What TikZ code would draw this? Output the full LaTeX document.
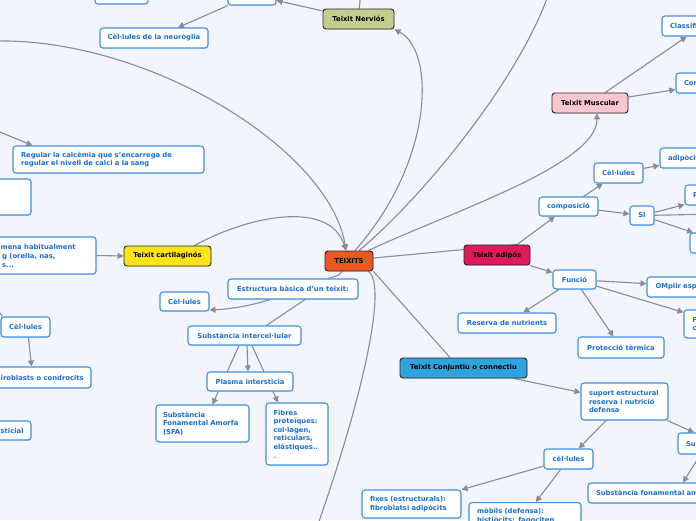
\documentclass[tikz,border=0pt]{standalone}
\usepackage{fontspec}
\setmainfont{DejaVu Sans}
\usetikzlibrary{arrows.meta,shadows}
\definecolor{bgc}{RGB}{242,245,254}
\definecolor{cb}{RGB}{64,143,226}
\definecolor{ct}{RGB}{28,110,212}
\definecolor{ln}{RGB}{140,140,140}
\definecolor{nervc}{RGB}{196,206,140}
\definecolor{teixc}{RGB}{236,88,36}
\definecolor{cartc}{RGB}{255,228,24}
\definecolor{muscc}{RGB}{249,198,207}
\definecolor{adipc}{RGB}{222,26,90}
\definecolor{conjc}{RGB}{47,164,220}
\pgfdeclarelayer{backg}
\pgfdeclarelayer{lines}
\pgfsetlayers{backg,lines,main}
\tikzset{
  txt/.style={font=\fontsize{6.8}{8.6}\selectfont\bfseries},
  child/.style={txt, draw=cb, line width=1.1pt, fill=white, rounded corners=3pt, text=ct,
    inner sep=0pt, minimum height=20pt,
    drop shadow={opacity=0.18, shadow xshift=0.6pt, shadow yshift=-0.9pt}},
  topic/.style={txt, draw=black!85, line width=0.9pt, rounded corners=3pt, text=black,
    inner sep=0pt, minimum height=20pt,
    drop shadow={opacity=0.18, shadow xshift=0.6pt, shadow yshift=-0.9pt}},
  cuttext/.style={txt, text=ct, anchor=west, align=left, inner sep=0pt},
  conn/.style={draw=ln, line width=1.1pt},
  arr/.style={conn, -{Triangle[length=6pt,width=6pt]}},
}
\begin{document}
\begin{tikzpicture}[x=1pt,y=-1pt]
\useasboundingbox (0,0) rectangle (696,520);
\begin{pgfonlayer}{backg}
\fill[bgc] (0,0) rectangle (696,520);
\end{pgfonlayer}
\clip (0,0) rectangle (696,520);
% ---- nodes ----
\node[child, minimum width=53pt] (tbA) at (121.5,-6) {};
\node[child, minimum width=48pt] (tbB) at (252,-5) {};
\node[topic, fill=nervc, minimum width=71pt] (nerv) at (358.5,19) {Teixit Nerviós};
\node[child, minimum width=108pt] (glia) at (154,38) {Cèl·lules de la neuròglia};
\node[topic, fill=teixc, minimum width=48pt] (teix) at (349,261) {TEIXITS};
\node[child, minimum width=191pt, minimum height=27pt, text width=175pt, align=left] (reg) at (108.5,159.5) {Regular la calcèmia que s'encarrega de\\regular el nivell de calci a la sang};
\node[child, minimum width=71pt, minimum height=36pt] (lb1) at (-4.5,197) {};
\node[child, minimum width=156pt, minimum height=37pt] (mena) at (18,255.5) {};
\node[cuttext] (menaT) at (0.5,256) {mena habitualment\\\hspace*{1.5pt}g (orella, nas,\\\hspace*{1.5pt}s...};
\node[topic, fill=cartc, minimum width=87pt] (cart) at (167.5,256) {Teixit cartilaginós};
\node[child, minimum width=49pt] (celL) at (25.5,327) {Cèl·lules};
\node[child, minimum width=131pt, minimum height=21pt] (irob) at (25.5,377.5) {};
\node[cuttext] (irobT) at (0.5,377.5) {iroblasts o condrocits};
\node[child, minimum width=71pt, minimum height=19pt] (stic) at (-4.5,430.5) {};
\node[cuttext] (sticT) at (0.5,430.5) {sticial};
\node[child, minimum width=49pt, minimum height=19pt] (celM) at (184.5,301.5) {Cèl·lules};
\node[child, minimum width=130pt] (estr) at (293,289) {Estructura bàsica d'un teixit:};
\node[child, minimum width=113pt, minimum height=19pt] (subst) at (244.5,335.5) {Substància intercel·lular};
\node[child, minimum width=86pt, minimum height=19pt] (plas) at (250,381.5) {Plasma intersticia};
\node[child, minimum width=93pt, minimum height=37pt, text width=79pt, align=left] (sfa) at (202.5,423.5) {Substància\\Fonamental Amorfa\\(SFA)};
\node[child, minimum width=62pt, minimum height=62pt, text width=47pt, align=left] (fib) at (297,434) {Fibres\\proteïques:\\col·lagen,\\reticulars,\\elàstiques..\\.};
\node[topic, fill=muscc, minimum width=76pt] (musc) at (590,103) {Teixit Muscular};
\node[child, minimum width=80pt, text width=64pt, align=left] (clas) at (702,26) {Classificació};
\node[child, minimum width=84pt, text width=68pt, align=left] (con) at (718,83) {Contracció};
\node[topic, fill=adipc, minimum width=66pt] (adip) at (497,255) {Teixit adipós};
\node[child, minimum width=59pt, minimum height=19pt] (comp) at (568.5,206.5) {composició};
\node[child, minimum width=49pt] (celA) at (618.5,173) {Cèl·lules};
\node[child, minimum width=80pt, text width=64pt, align=left] (adpc) at (700,158) {adipòcits};
\node[child, minimum width=24pt, minimum height=19pt] (si) at (642,215.5) {SI};
\node[child, minimum width=75pt, text width=59pt, align=left] (pbox) at (722.5,195) {P};
\node[child, minimum width=70pt] (sib) at (725,243) {};
\coordinate (siR) at (720,214);
\node[child, minimum width=43pt, minimum height=19pt] (func) at (574.5,279.5) {Funció};
\node[child, minimum width=113pt, text width=96pt, align=left] (ompl) at (703.5,287) {OMplir espai};
\node[child, minimum width=76pt, minimum height=28pt, text width=59pt, align=left] (fbox) at (722,324) {F\\c};
\node[child, minimum width=98pt] (res) at (507,323) {Reserva de nutrients};
\node[child, minimum width=86pt, minimum height=21pt] (prot) at (621,347.5) {Protecció tèrmica};
\node[topic, fill=conjc, minimum width=127pt] (conj) at (463.5,368) {Teixit Conjuntiu o connectiu};
\node[child, minimum width=87pt, minimum height=37pt, text width=71pt, align=left] (sup) at (624.5,401.5) {suport estructural\\reserva i nutrició\\defensa};
\node[child, minimum width=49pt] (celC) at (568.5,459) {cèl·lules};
\node[child, minimum width=82pt, minimum height=21pt, text width=66pt, align=left] (su) at (719,443.5) {Substància};
\node[child, minimum width=150pt, text width=134pt, align=left] (sfon) at (663,493) {Substància fonamental amorfa};
\node[child, minimum width=99pt, minimum height=28pt, text width=83pt, align=left] (fix) at (411.5,504) {fixes (estructurals):\\fibroblatsi adipòcits};
\node[child, minimum width=112pt, text width=96pt, inner ysep=6pt, align=left, anchor=north] (mob) at (525,502) {mòbils (defensa):\\histiòcits: fagociten};
% ---- connectors ----
\coordinate (nervUp) at (361,-12);
\coordinate (lft) at (-5,41);
\coordinate (topR) at (550,-10);
\coordinate (botC) at (316,530);
\coordinate (lft2) at (-5,130);
\coordinate (lft3) at (-8,303);
\begin{pgfonlayer}{lines}
\clip (0,0) rectangle (696,520);
\draw[arr] (nerv) -- (tbB);
\draw[arr] (tbB) -- (glia);
\draw[conn] (nerv) -- (nervUp);
\draw[arr] (lft) .. controls (150,38) and (330,150) .. ([xshift=-3pt]teix.north);
\draw[arr] ([xshift=27pt]cart.north) .. controls (250,215) and (330,200) .. ([xshift=-3pt]teix.north);
\draw[arr] ([xshift=6pt]teix.north) .. controls (435,160) and (435,50) .. (nerv.south east);
\draw[conn] ([xshift=10pt]teix.north) .. controls (420,200) and (520,80) .. (topR);
\draw[arr] ([xshift=-5pt]teix.north east) .. controls (450,212) and (597,165) .. ([xshift=7pt]musc.south);
\draw[conn] ([yshift=3pt]teix.east) -- ([xshift=20pt]adip.north);
\draw[arr] ([xshift=20pt]adip.north) -- (comp);
\draw[conn] (teix.south east) -- ([xshift=-13.5pt]conj.north);
\draw[conn] ([xshift=-5pt]teix.south east) .. controls (388,285) and (362,400) .. (botC);
\draw[conn] ([xshift=-7pt]teix.south) .. controls (340,275) .. ([xshift=35pt]estr.north);
\draw[arr] ([xshift=-23pt]estr.south) .. controls (250,306) and (230,309) .. ([yshift=-8.5pt]celM.east);
\draw[conn] ([xshift=12pt]estr.south) -- ([xshift=22pt]subst.north);
\draw[arr] ([xshift=-5.5pt]subst.south) -- ([xshift=10pt]sfa.north);
\draw[arr] ([xshift=2.5pt]subst.south) -- ([xshift=-2pt]plas.north);
\draw[arr] ([xshift=7.5pt]subst.south) -- ([xshift=-19pt]fib.north);
\draw[arr] (lft2) -- ([xshift=20pt]reg.north west);
\draw[arr] (mena.east) -- (cart.west);
\draw[conn] (lft3) -- ([xshift=2pt]celL.north west);
\draw[arr] ([xshift=3pt]celL.south) -- ([xshift=6pt]irob.north);
\draw[arr] (musc) -- (clas);
\draw[arr] (musc) -- (con);
\draw[arr] (comp) -- (celA);
\draw[arr] (comp) -- (si);
\draw[arr] (celA) -- (adpc);
\draw[arr] (si) -- (pbox);
\draw[conn] (si) -- (siR);
\draw[arr] (si) -- (sib);
\draw[arr] (adip) -- (func);
\draw[arr] (func) -- (ompl);
\draw[arr] (func) -- (fbox);
\draw[arr] (func) -- (res);
\draw[arr] (func) -- (prot);
\draw[arr] (conj) -- (sup);
\draw[arr] (sup) -- (celC);
\draw[arr] (sup) -- (su);
\draw[arr] ([xshift=23pt]su.south west) -- ([xshift=20pt]sfon.north);
\draw[arr] (celC) -- (fix);
\draw[arr] (celC) -- (mob);
\end{pgfonlayer}
\end{tikzpicture}
\end{document}
